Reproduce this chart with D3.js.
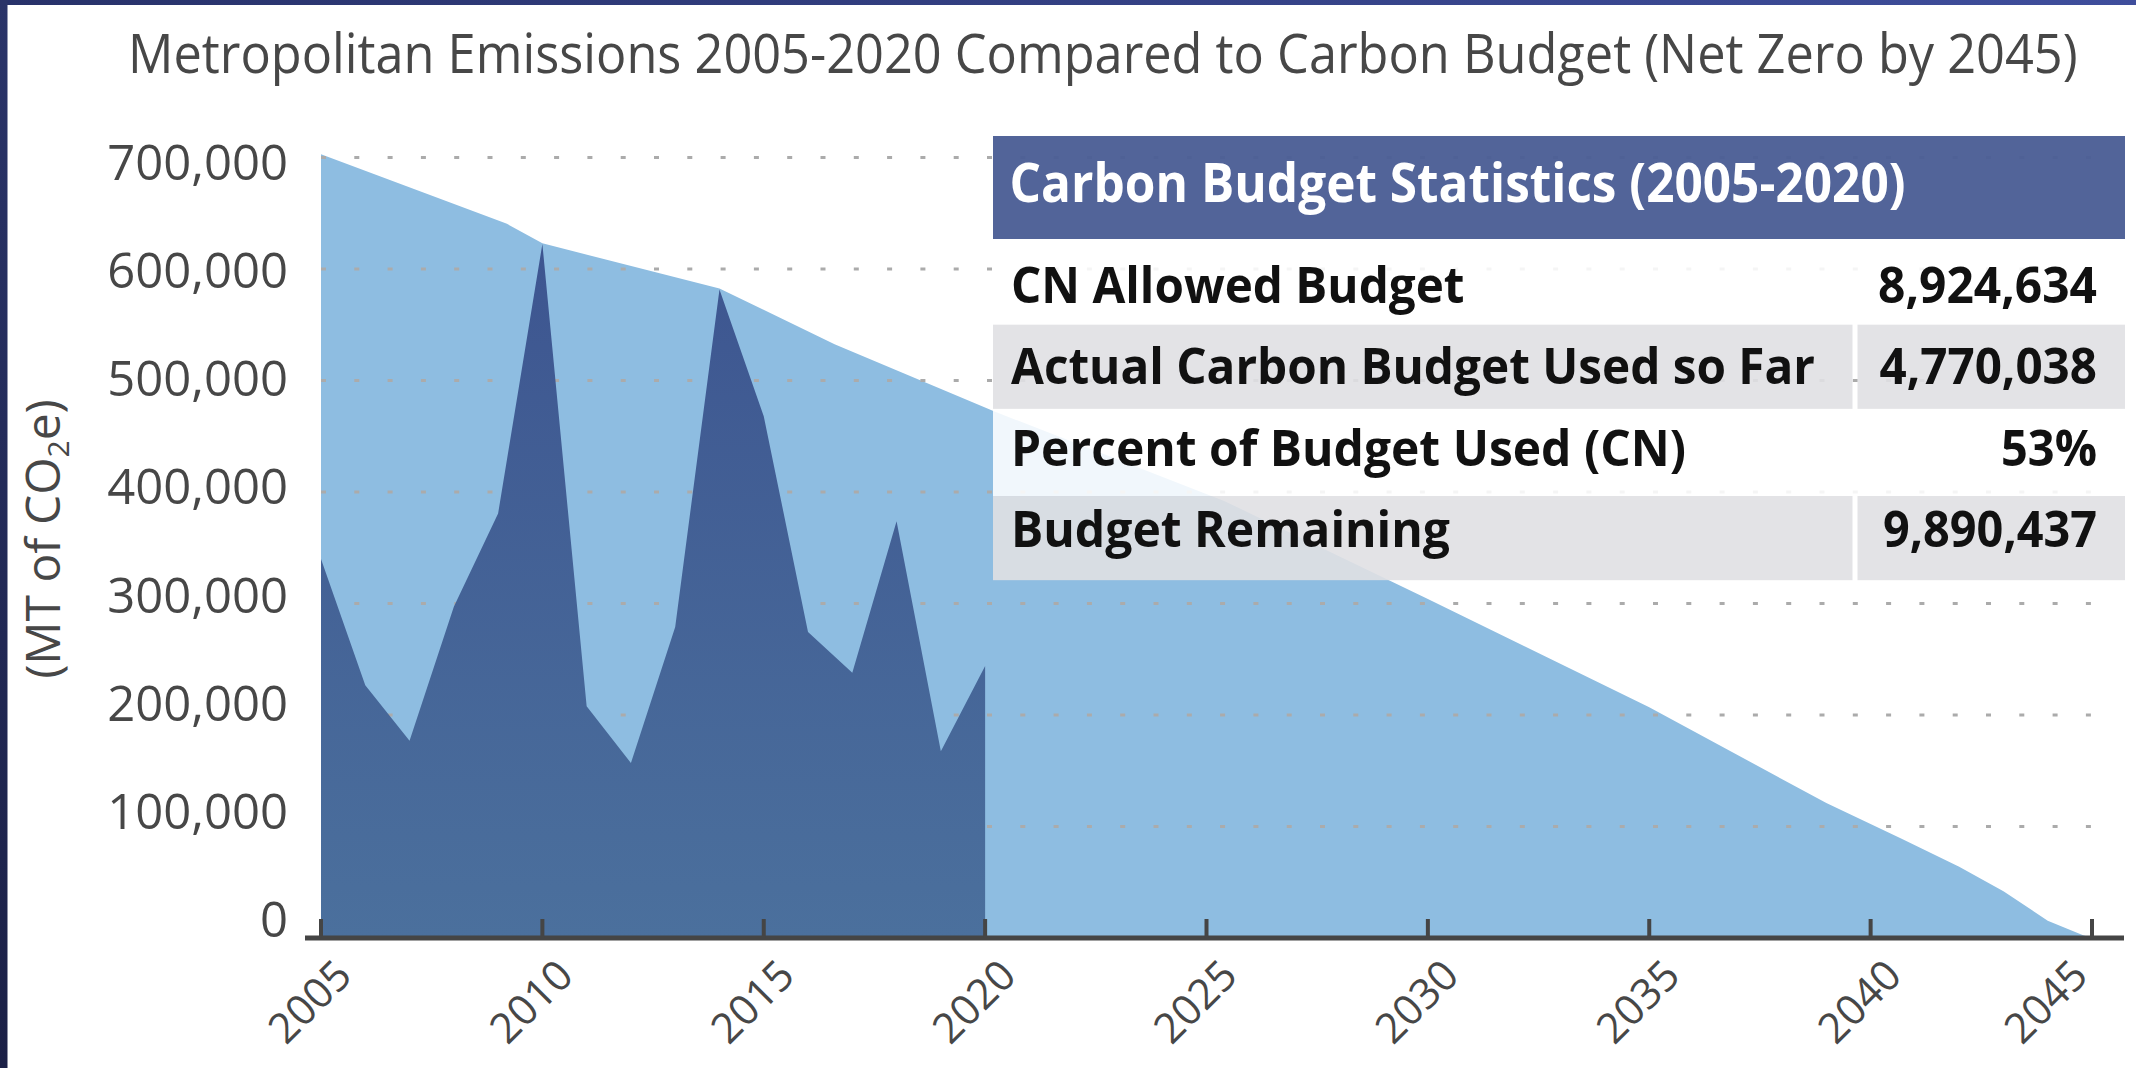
<!DOCTYPE html>
<html>
<head>
<meta charset="utf-8">
<script src="https://cdn.jsdelivr.net/npm/d3@7"></script>
<style>
html,body{margin:0;padding:0;background:#fff;}
svg{display:block;}
</style>
</head>
<body>
<svg id="chart" width="2136" height="1068"></svg>
<script>
// ---------------- DATA ----------------
const chartTitle = "Metropolitan Emissions 2005-2020 Compared to Carbon Budget (Net Zero by 2045)";
const emissionYears = [2005,2006,2007,2008,2009,2010,2011,2012,2013,2014,2015,2016,2017,2018,2019,2020];
const emissionValues = [340000,226600,177000,297000,380700,622500,207800,157000,279000,581600,468000,274500,238000,373700,167600,244000];
const budgetYears = [2005,2009.2,2010,2014,2016.6,2020.2,2025.4,2030,2035,2039,2040.7,2042,2043,2044,2044.8,2045];
const budgetValues = [703000,640500,623000,582500,532500,472400,392000,304000,207000,121000,89000,64000,42000,15500,2500,0];
const yTickValues = [0,100000,200000,300000,400000,500000,600000,700000];
const xTickValues = [2005,2010,2015,2020,2025,2030,2035,2040,2045];
const yAxisTitleMain = "(MT of CO";
const yAxisTitleSub = "2";
const yAxisTitleEnd = "e)";
const tableTitle = "Carbon Budget Statistics (2005-2020)";
const tableLabels = ["CN Allowed Budget","Actual Carbon Budget Used so Far","Percent of Budget Used (CN)","Budget Remaining"];
const tableValues = ["8,924,634","4,770,038","53%","9,890,437"];

// ---------------- LAYOUT ----------------
const W = 2136, H = 1068;
const svg = d3.select("#chart");
const defs = svg.append("defs");
const FONT = "'Open Sans', 'Noto Sans', sans-serif";
const TXT = "#474747";

const x = d3.scaleLinear().domain([2005, 2045]).range([321, 2092]);
const y = d3.scaleLinear().domain([0, 700000]).range([938, 157.5]);
// label baselines in the original are spaced slightly tighter than the gridlines
const yLabel = d3.scaleLinear().domain([0, 700000]).range([937, 180]);

// frame gradients
const gTop = defs.append("linearGradient").attr("id","gTop").attr("x1","0").attr("x2","1").attr("y1","0").attr("y2","0");
gTop.append("stop").attr("offset","0").attr("stop-color","#28326a");
gTop.append("stop").attr("offset","1").attr("stop-color","#3f4e9c");
const gLeft = defs.append("linearGradient").attr("id","gLeft").attr("x1","0").attr("x2","0").attr("y1","0").attr("y2","1");
gLeft.append("stop").attr("offset","0").attr("stop-color","#2a3469");
gLeft.append("stop").attr("offset","1").attr("stop-color","#1b2046");

const gDark = defs.append("linearGradient").attr("id","gDark")
  .attr("gradientUnits","userSpaceOnUse").attr("x1",0).attr("x2",0)
  .attr("y1", y(d3.max(emissionValues))).attr("y2", y(0));
gDark.append("stop").attr("offset","0").attr("stop-color","#3d5590");
gDark.append("stop").attr("offset","1").attr("stop-color","#4b709d");

// title (horizontally condensed to the original's width)
const titleG = svg.append("g");
const titleT = titleG.append("text")
  .attr("x", 0).attr("y", 0)
  .attr("font-family", FONT).attr("font-size", 54).attr("fill", TXT)
  .text(chartTitle);
const tLen = titleT.node().getComputedTextLength();
const tScale = Math.min(1, 1950 / tLen);
titleG.attr("transform", `translate(128,73) scale(${tScale},1)`);

// budget (light) area
const budget = budgetYears.map((yr, i) => ({yr, v: budgetValues[i]}));
svg.append("path")
  .datum(budget)
  .attr("fill", "#8ebde1")
  .attr("d", d3.area().x(d => x(d.yr)).y0(y(0)).y1(d => y(d.v)));

// gridlines
svg.append("g").selectAll("line")
  .data(yTickValues.filter(v => v > 0))
  .join("line")
  .attr("x1", x(2005)).attr("x2", x(2045))
  .attr("y1", d => y(d)).attr("y2", d => y(d))
  .attr("stroke", "#ababab").attr("stroke-width", 3)
  .attr("stroke-dasharray", "5 28.3");

// emissions (dark) area
const emis = emissionYears.map((yr, i) => ({yr, v: emissionValues[i]}));
svg.append("path")
  .datum(emis)
  .attr("fill", "url(#gDark)")
  .attr("d", d3.area().x(d => x(d.yr)).y0(y(0)).y1(d => y(d.v)));

// x axis
svg.append("line")
  .attr("x1", 305).attr("x2", 2124)
  .attr("y1", 938).attr("y2", 938)
  .attr("stroke", "#454545").attr("stroke-width", 5);
svg.append("g").selectAll("line")
  .data(xTickValues)
  .join("line")
  .attr("x1", d => x(d)).attr("x2", d => x(d))
  .attr("y1", 919).attr("y2", 938)
  .attr("stroke", "#454545").attr("stroke-width", 4);
svg.append("g").selectAll("text")
  .data(xTickValues)
  .join("text")
  .attr("transform", d => `translate(${Math.min(x(d) + 33, 2090)},978) rotate(-45)`)
  .attr("text-anchor", "end")
  .attr("font-family", FONT).attr("font-size", 42).attr("fill", TXT)
  .text(d => d);

// y labels
svg.append("g").selectAll("text")
  .data(yTickValues)
  .join("text")
  .attr("x", 288).attr("y", d => yLabel(d))
  .attr("text-anchor", "end")
  .attr("font-family", FONT).attr("font-size", 49).attr("fill", TXT)
  .text(d => d3.format(",")(d));

// y axis title
const yt = svg.append("text")
  .attr("transform", "translate(60,539) rotate(-90)")
  .attr("text-anchor", "middle")
  .attr("font-family", FONT).attr("font-size", 48).attr("fill", TXT);
yt.append("tspan").text(yAxisTitleMain);
yt.append("tspan").attr("font-size", 30).attr("dy", 9).text(yAxisTitleSub);
yt.append("tspan").attr("dy", -9).text(yAxisTitleEnd);

// ---------------- TABLE ----------------
const tb = svg.append("g");
const tX0 = 993, tX1 = 2125, tSplit = 1852.5, tGap = 5;
const headTop = 136, headBot = 239, rowH = 85.67;
tb.append("rect")
  .attr("x", tX0).attr("y", headTop).attr("width", tX1 - tX0).attr("height", headBot - headTop)
  .attr("fill", "#4b5e95").attr("opacity", 0.96);
tb.append("text")
  .attr("x", 1009.5).attr("y", 201.7)
  .attr("font-family", FONT).attr("font-weight", 700).attr("font-size", 54).attr("fill", "#fff")
  .attr("textLength", 896).attr("lengthAdjust", "spacingAndGlyphs")
  .text(tableTitle);

const labelW = [453.5, 804, 675, 439];
const valueW = [219, 217.5, 96, 214];
const rowTextY = d3.scaleLinear().domain([0, 3]).range([303, 547]);
tableLabels.forEach((lab, i) => {
  const top = headBot + i * rowH;
  const gray = i % 2 === 1;
  if (gray) {
    tb.append("rect").attr("x", tX0).attr("y", top).attr("width", tSplit - tX0).attr("height", rowH - 1.5)
      .attr("fill", "#e0e0e3").attr("opacity", 0.9);
    tb.append("rect").attr("x", tSplit + tGap).attr("y", top).attr("width", tX1 - tSplit - tGap).attr("height", rowH - 1.5)
      .attr("fill", "#e0e0e3").attr("opacity", 0.9);
  } else {
    tb.append("rect").attr("x", tX0).attr("y", top).attr("width", tX1 - tX0).attr("height", rowH)
      .attr("fill", "#ffffff").attr("opacity", 0.88);
  }
  tb.append("text")
    .attr("x", 1011).attr("y", rowTextY(i))
    .attr("font-family", FONT).attr("font-weight", 700).attr("font-size", 51).attr("fill", "#111")
    .attr("textLength", labelW[i]).attr("lengthAdjust", "spacingAndGlyphs")
    .text(lab);
  tb.append("text")
    .attr("x", 2097).attr("y", rowTextY(i))
    .attr("text-anchor", "end")
    .attr("font-family", FONT).attr("font-weight", 700).attr("font-size", 51).attr("fill", "#111")
    .attr("textLength", valueW[i]).attr("lengthAdjust", "spacingAndGlyphs")
    .text(tableValues[i]);
});

// frame bars
svg.append("rect").attr("x", 0).attr("y", 0).attr("width", W).attr("height", 5).attr("fill", "url(#gTop)");
svg.append("rect").attr("x", 0).attr("y", 0).attr("width", 7.5).attr("height", H).attr("fill", "url(#gLeft)");
</script>
</body>
</html>
